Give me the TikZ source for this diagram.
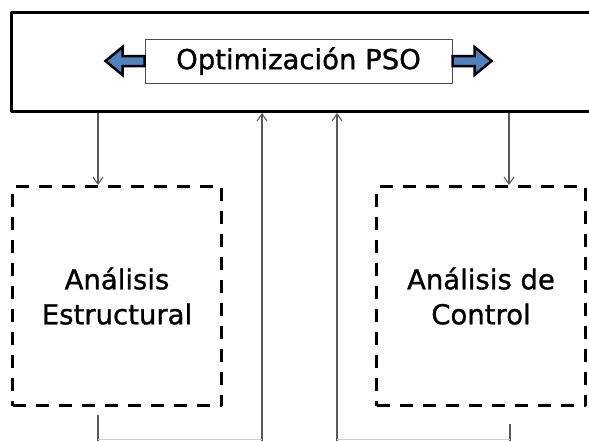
\documentclass[tikz,border=0pt]{standalone}
\usepackage{fontspec}
\setmainfont{DejaVu Sans}[BoldFont=DejaVu Sans, BoldFeatures={FakeBold=1}]
\usetikzlibrary{arrows.meta}
\definecolor{psoblue}{RGB}{79,129,189}
\begin{document}
\begin{tikzpicture}[x=1pt, y=-1pt, >={Straight Barb[length=7pt,width=10pt]}, line join=round,
    wire/.style={draw=black!65, line width=1.1pt},
    dashbox/.style={draw, line width=3pt, dash pattern=on 13pt off 10pt, minimum width=209pt, minimum height=219pt, align=center, font=\fontsize{27.5}{35}\selectfont\bfseries},
    blockarrow/.style={fill=psoblue, draw=black, line width=2.5pt, line join=miter}]
\useasboundingbox (0,0) rectangle (589,440);
\clip (0,0) rectangle (589,440);
\coordinate (dl) at (98,0);
\coordinate (dr) at (509,0);
\coordinate (u1) at (262,450);
\coordinate (u2) at (337,450);
\coordinate (b1) at (98,415);
\coordinate (b2) at (510,424);
\coordinate (base) at (0,439.5);
        \node[draw, line width=3pt, anchor=north west, minimum width=640pt, minimum height=99pt, inner sep=0] (opt) at (10,11) {};
        \node[draw=black!70, line width=1pt, fill=white, minimum width=307pt, minimum height=44pt, font=\fontsize{27.5}{33}\selectfont\bfseries] (title) at (298.5,61) {Optimización PSO};
\draw[blockarrow] (title.west) ++(0,-5) -- ++(-22,0) -- ++(0,-9) -- ++(-17,14) -- ++(17,14) -- ++(0,-9) -- ++(22,0) -- cycle;
\draw[blockarrow] (title.east) ++(0,-5) -- ++(22,0) -- ++(0,-9) -- ++(17,14) -- ++(-17,14) -- ++(0,-9) -- ++(-22,0) -- cycle;
        \node[dashbox] (ea) at (117,296) {Análisis\\Estructural};
        \node[dashbox] (ec) at (481,296) {Análisis de\\Control};
\draw[wire,->] (opt.south -| dl) -- (ea.north -| dl);
\draw[wire,->] (opt.south -| dr) -- (ec.north -| dr);
\draw[wire,->] (u1) -- (u1 |- opt.south);
\draw[wire,->] (u2) -- (u2 |- opt.south);
\draw[wire] (b1) -- (b1 |- u1);
\draw[wire] (b2) -- (b2 |- u2);
\draw[black!20, line width=1pt] (b1 |- base) -- (u1 |- base) (u2 |- base) -- (b2 |- base);
    \end{tikzpicture}
\end{document}
